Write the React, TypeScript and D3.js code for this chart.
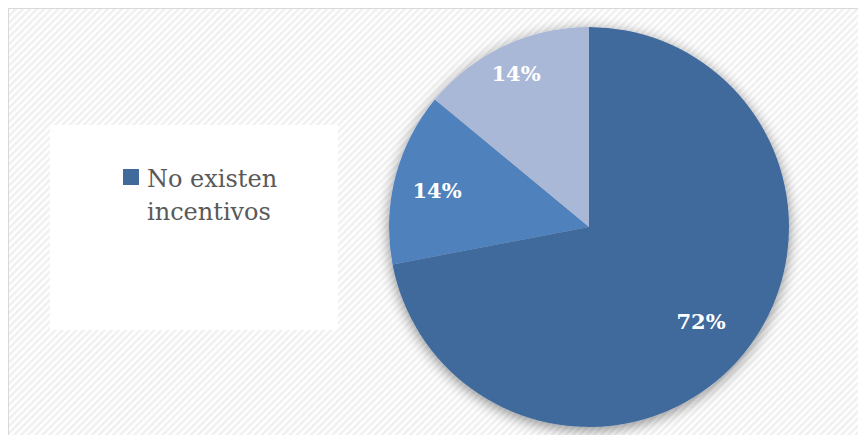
import React from "react";
import * as d3 from "d3";

const categories = ["No existen incentivos", "Categoría 2", "Categoría 3"];
const values = [72, 14, 14];
const colors = ["#416A9C", "#4F81BD", "#A9B8D7"];
const labels = ["72%", "14%", "14%"];

export default function App() {
  const W = 858;
  const H = 427;
  const cx = 581;
  const cy = 219;
  const r = 200;
  const pie = d3.pie<number>().sort(null).value((d) => d)(values);
  const arc = d3.arc<d3.PieArcDatum<number>>().innerRadius(0).outerRadius(r);
  const labelArc = d3.arc<d3.PieArcDatum<number>>().innerRadius(r * 0.6).outerRadius(r * 0.6);
  const labelPos = [
    [112, 94],
    [-152, -37],
    [-73, -154],
  ];
  return (
    <svg width={W} height={H} style={{ display: "block" }}>
      <defs>
        <pattern id="hatch" width="5" height="5" patternUnits="userSpaceOnUse" patternTransform="rotate(45)">
          <rect width="5" height="5" fill="#ffffff" />
          <rect width="2.5" height="5" fill="#f0f0f0" />
        </pattern>
        <filter id="glow" x="-20%" y="-20%" width="140%" height="140%">
          <feGaussianBlur in="SourceAlpha" stdDeviation="7" />
          <feOffset dx="0" dy="3" result="b" />
          <feComponentTransfer>
            <feFuncA type="linear" slope="0.45" />
          </feComponentTransfer>
          <feMerge>
            <feMergeNode />
            <feMergeNode in="SourceGraphic" />
          </feMerge>
        </filter>
      </defs>
      <rect x={0} y={0} width={W + 20} height={H + 20} fill="url(#hatch)" stroke="#d9d9d9" strokeWidth={2} />
      <rect x={42} y={117} width={288} height={205} fill="#ffffff" />
      <rect x={115} y={161} width={16} height={16} fill={colors[0]} />
      <text x={139} y={179} fontFamily="'DejaVu Serif', serif" fontSize={24} fill="#595959">
        No existen
      </text>
      <text x={139} y={212} fontFamily="'DejaVu Serif', serif" fontSize={24} fill="#595959">
        incentivos
      </text>
      <g transform={`translate(${cx},${cy})`}>
        <g filter="url(#glow)">
          {pie.map((d, i) => (
            <path key={categories[i]} d={arc(d) || ""} fill={colors[i]} />
          ))}
        </g>
        {pie.map((d, i) => {
          const c = labelArc.centroid(d);
          const p = labelPos[i] || c;
          return (
            <text
              key={"l" + i}
              x={p[0]}
              y={p[1]}
              textAnchor="middle"
              dominantBaseline="central"
              fontFamily="'DejaVu Serif', serif"
              fontWeight="bold"
              fontSize={21}
              fill="#ffffff"
            >
              {labels[i]}
            </text>
          );
        })}
      </g>
    </svg>
  );
}
